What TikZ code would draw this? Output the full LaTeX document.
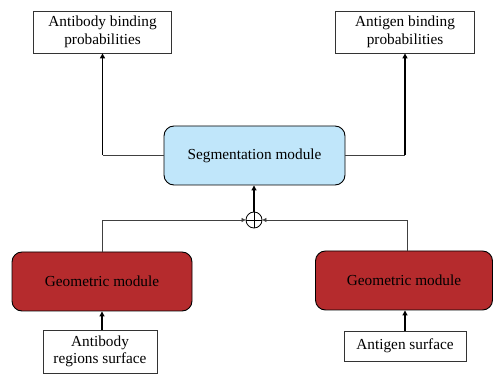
\documentclass[tikz,border=0pt]{standalone}
\usepackage{fontspec}
\setmainfont{Liberation Serif}
\usetikzlibrary{arrows.meta,calc}
\definecolor{segblue}{HTML}{C0E6FA}
\definecolor{geored}{HTML}{B52B2D}
\begin{document}
\begin{tikzpicture}[x=1pt,y=-1pt,
  every node/.style={font=\fontsize{15.3}{17.5}\selectfont, align=center, inner sep=0pt},
  outbox/.style={draw=black!80, line width=0.8pt, fill=white},
  segbox/.style={draw=black, line width=0.9pt, fill=segblue, rounded corners=10pt},
  geobox/.style={draw=black, line width=0.9pt, fill=geored, rounded corners=10pt},
  conn/.style={draw=black!75, line width=0.7pt},
  uparrow/.style={draw=black, line width=1.1pt, -{Triangle[length=5pt,width=5pt]}},
  sidearrow/.style={draw=black!75, line width=0.7pt, -{Triangle[length=4pt,width=4pt]}},
  sumnode/.style={circle, draw=black, line width=0.8pt, minimum size=16pt,
    path picture={\draw[line width=0.8pt] (path picture bounding box.north) -- (path picture bounding box.south)
      (path picture bounding box.west) -- (path picture bounding box.east);}}
]
\useasboundingbox (0,0) rectangle (493,374);
\node[outbox, minimum width=138pt, minimum height=42pt] (abp) at (102.5,32) {Antibody binding\\probabilities};
\node[outbox, minimum width=139pt, minimum height=42pt] (agp) at (405,32) {Antigen binding\\probabilities};
\node[segbox, minimum width=181pt, minimum height=59pt] (seg) at (254.5,155.5) {Segmentation module};
\node[sumnode] (sum) at (254,220) {};
\node[geobox, minimum width=180pt, minimum height=59pt] (geoL) at (102,281.5) {Geometric module};
\node[geobox, minimum width=177pt, minimum height=59pt] (geoR) at (404,280.5) {Geometric module};
\node[outbox, minimum width=114pt, minimum height=43pt] (inL) at (100,351.5) {Antibody\\regions surface};
\node[outbox, minimum width=122pt, minimum height=30pt] (inR) at (405,346) {Antigen surface};

\draw[conn] (seg.west) -- (seg.west -| abp.south);
\draw[uparrow] (seg.west -| abp.south) -- (abp.south);
\draw[conn] (seg.east) -- (seg.east -| agp.south);
\draw[uparrow] (seg.east -| agp.south) -- (agp.south);
\draw[uparrow] (sum.north) -- (sum.north |- seg.south);
\draw[sidearrow] (geoL.north) |- (sum.west);
\draw[sidearrow] ([xshift=3pt]geoR.north) |- (sum.east);
\draw[uparrow] (geoL.south |- inL.north) -- (geoL.south);
\draw[uparrow] (inR.north) -- (inR.north |- geoR.south);
\end{tikzpicture}
\end{document}
